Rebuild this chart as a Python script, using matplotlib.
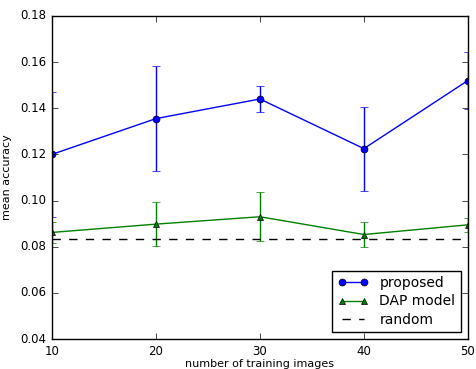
import matplotlib
matplotlib.use('Agg')
import matplotlib.pyplot as plt

plt.style.use('classic')

# data
n_images = [10, 20, 30, 40, 50]
proposed_mean = [0.1200, 0.1355, 0.1440, 0.1225, 0.1520]
proposed_err = [0.0272, 0.0228, 0.0058, 0.0182, 0.0125]
dap_mean = [0.0862, 0.0898, 0.0930, 0.0853, 0.0895]
dap_err = [0.0046, 0.0096, 0.0105, 0.0055, 0.0030]
random_level = 1.0 / 12

fig = plt.figure(figsize=(4.76, 3.69), dpi=100)
ax = fig.add_axes([0.109, 0.081, 0.874, 0.876])

eb1 = ax.errorbar(n_images, proposed_mean, yerr=proposed_err, color='b', marker='o',
                  markersize=5, markeredgecolor='k', markerfacecolor='b', capsize=3,
                  linewidth=1, elinewidth=1)
eb2 = ax.errorbar(n_images, dap_mean, yerr=dap_err, color='g', marker='^',
                  markersize=5, markeredgecolor='k', markerfacecolor='g', capsize=3,
                  linewidth=1, elinewidth=1)
rnd, = ax.plot([n_images[0], n_images[-1]], [random_level, random_level], 'k--',
               linewidth=1)

ax.set_xlim(10, 50)
ax.set_ylim(0.04, 0.18)
ax.set_xticks([10, 20, 30, 40, 50])
ax.set_yticks([0.04, 0.06, 0.08, 0.10, 0.12, 0.14, 0.16, 0.18])
ax.set_yticklabels(['0.04', '0.06', '0.08', '0.10', '0.12', '0.14', '0.16', '0.18'])
ax.tick_params(labelsize=8.5, direction='in', length=4, pad=4)
ax.set_xlabel('number of training images', fontsize=8, labelpad=1)
ax.set_ylabel('mean accuracy', fontsize=8, labelpad=6)

ax.legend([eb1[0], eb2[0], rnd], ['proposed', 'DAP model', 'random'],
          loc='lower right', fontsize=10, numpoints=2, handlelength=2.2,
          borderaxespad=0.5, labelspacing=0.3)

fig.savefig('out.png', dpi=100)
